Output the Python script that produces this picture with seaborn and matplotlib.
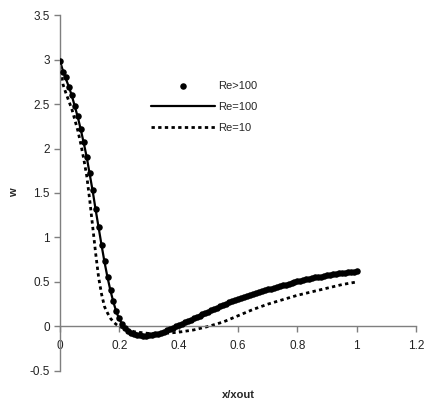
import matplotlib
matplotlib.use("Agg")
import matplotlib.pyplot as plt
import seaborn as sns
import pandas as pd
import numpy as np

# x positions (x/xout) for the sampled curves
x_grid = [0.00, 0.01, 0.02, 0.03, 0.04, 0.05, 0.06, 0.07, 0.08, 0.09,
          0.10, 0.11, 0.12, 0.13, 0.14, 0.15, 0.16, 0.17, 0.18, 0.19,
          0.20, 0.21, 0.22, 0.23, 0.24, 0.25, 0.26, 0.27, 0.28, 0.29,
          0.30, 0.31, 0.32, 0.33, 0.34, 0.35, 0.36, 0.37, 0.38, 0.39,
          0.40, 0.41, 0.42, 0.43, 0.44, 0.45, 0.46, 0.47, 0.48, 0.49,
          0.50, 0.51, 0.52, 0.53, 0.54, 0.55, 0.56, 0.57, 0.58, 0.59,
          0.60, 0.61, 0.62, 0.63, 0.64, 0.65, 0.66, 0.67, 0.68, 0.69,
          0.70, 0.71, 0.72, 0.73, 0.74, 0.75, 0.76, 0.77, 0.78, 0.79,
          0.80, 0.81, 0.82, 0.83, 0.84, 0.85, 0.86, 0.87, 0.88, 0.89,
          0.90, 0.91, 0.92, 0.93, 0.94, 0.95, 0.96, 0.97, 0.98, 0.99, 1.00]

# Re>100 (markers)
w_re_gt100 = [2.98, 2.86, 2.80, 2.69, 2.60, 2.48, 2.36, 2.22, 2.07, 1.91,
              1.72, 1.53, 1.32, 1.12, 0.92, 0.73, 0.56, 0.41, 0.28, 0.17,
              0.09, 0.03, -0.02, -0.05, -0.07, -0.085, -0.095, -0.10, -0.105, -0.105,
              -0.10, -0.095, -0.09, -0.08, -0.07, -0.06, -0.045, -0.03, -0.015, 0.00,
              0.015, 0.03, 0.045, 0.06, 0.075, 0.09, 0.105, 0.12, 0.135, 0.15,
              0.165, 0.18, 0.195, 0.21, 0.225, 0.24, 0.255, 0.27, 0.28, 0.295,
              0.305, 0.32, 0.33, 0.34, 0.355, 0.365, 0.375, 0.385, 0.395, 0.405,
              0.415, 0.425, 0.435, 0.445, 0.455, 0.465, 0.47, 0.48, 0.49, 0.50,
              0.505, 0.515, 0.52, 0.53, 0.535, 0.545, 0.55, 0.555, 0.56, 0.565,
              0.575, 0.58, 0.585, 0.59, 0.595, 0.60, 0.605, 0.61, 0.612, 0.615, 0.62]

# Re=100 (solid line)
w_re100 = [2.98, 2.87, 2.78, 2.69, 2.59, 2.47, 2.35, 2.21, 2.06, 1.90,
           1.71, 1.52, 1.31, 1.11, 0.91, 0.72, 0.55, 0.40, 0.27, 0.16,
           0.08, 0.02, -0.02, -0.05, -0.07, -0.085, -0.095, -0.10, -0.105, -0.105,
           -0.10, -0.095, -0.09, -0.08, -0.07, -0.06, -0.045, -0.03, -0.015, 0.00,
           0.015, 0.03, 0.045, 0.06, 0.075, 0.09, 0.105, 0.12, 0.135, 0.15,
           0.165, 0.18, 0.195, 0.21, 0.225, 0.24, 0.255, 0.27, 0.28, 0.295,
           0.305, 0.32, 0.33, 0.34, 0.355, 0.365, 0.375, 0.385, 0.395, 0.405,
           0.415, 0.425, 0.435, 0.445, 0.455, 0.465, 0.47, 0.48, 0.49, 0.50,
           0.505, 0.515, 0.52, 0.53, 0.535, 0.545, 0.55, 0.555, 0.56, 0.565,
           0.575, 0.58, 0.585, 0.59, 0.595, 0.60, 0.605, 0.61, 0.612, 0.615, 0.62]

# Re=10 (dotted line)
x_re10 = [0.00, 0.01, 0.02, 0.03, 0.04, 0.05, 0.06, 0.07, 0.08, 0.09,
          0.10, 0.11, 0.12, 0.13, 0.14, 0.15, 0.16, 0.17, 0.18, 0.19,
          0.20, 0.22, 0.25, 0.30, 0.35, 0.40, 0.45, 0.50, 0.55, 0.60,
          0.65, 0.70, 0.75, 0.80, 0.85, 0.90, 0.95, 1.00]
w_re10 = [2.95, 2.72, 2.62, 2.53, 2.44, 2.32, 2.20, 2.05, 1.88, 1.69,
          1.42, 1.12, 0.82, 0.55, 0.36, 0.22, 0.15, 0.09, 0.05, 0.02,
          0.00, -0.03, -0.06, -0.08, -0.08, -0.065, -0.04, 0.00, 0.05, 0.12,
          0.19, 0.25, 0.30, 0.35, 0.39, 0.43, 0.47, 0.50]

x_ticks = [0, 0.2, 0.4, 0.6, 0.8, 1.0, 1.2]
x_tick_labels = ["0", "0.2", "0.4", "0.6", "0.8", "1", "1.2"]
y_ticks = [-0.5, 0, 0.5, 1, 1.5, 2, 2.5, 3, 3.5]
y_tick_labels = ["-0.5", "0", "0.5", "1", "1.5", "2", "2.5", "3", "3.5"]

sns.set_style("white")
plt.rcParams['font.family'] = ['Liberation Sans', 'DejaVu Sans']

fig = plt.figure(figsize=(4.29, 4.08), dpi=100)
ax = fig.add_axes([0.14, 0.091, 0.83, 0.872])

df_gt = pd.DataFrame({"x": x_grid, "w": w_re_gt100})
df_100 = pd.DataFrame({"x": x_grid, "w": w_re100})
df_10 = pd.DataFrame({"x": x_re10, "w": w_re10})

sns.lineplot(data=df_100, x="x", y="w", ax=ax, color="black", lw=1.6,
             label="Re=100", sort=False)
sns.lineplot(data=df_10, x="x", y="w", ax=ax, color="black", lw=2.0,
             linestyle=(0, (1.2, 1.2)), label="Re=10", sort=False)
sns.scatterplot(data=df_gt, x="x", y="w", ax=ax, color="black", s=22,
                edgecolor="black", linewidth=0, label="Re>100", zorder=3)

ax.set_xlim(0, 1.2)
ax.set_ylim(-0.5, 3.5)
ax.set_xticks(x_ticks)
ax.set_xticklabels(x_tick_labels)
ax.set_yticks(y_ticks)
ax.set_yticklabels(y_tick_labels)

for s in ["top", "right"]:
    ax.spines[s].set_visible(False)
ax.spines["bottom"].set_position(("data", 0))
ax.spines["left"].set_position(("data", 0))
for s in ["bottom", "left"]:
    ax.spines[s].set_color("#7f7f7f")
    ax.spines[s].set_linewidth(1.0)

ax.tick_params(axis="both", direction="out", length=4, width=1,
               color="#7f7f7f", labelsize=8.5, labelcolor="#222222",
               bottom=True, left=True)
ax.tick_params(axis="x", pad=6)

ax.set_xlabel("x/xout", fontsize=8, fontweight="bold")
ax.set_ylabel("w", fontsize=8, fontweight="bold")
ax.xaxis.set_label_coords(0.5, -0.055)
ax.yaxis.set_label_coords(-0.115, 0.5)

handles, labels = ax.get_legend_handles_labels()
order = [labels.index("Re>100"), labels.index("Re=100"), labels.index("Re=10")]
ax.legend([handles[i] for i in order], [labels[i] for i in order],
          frameon=False, loc="upper left", fontsize=8,
          bbox_to_anchor=(151 / 429, 1 - 81 / 408), bbox_transform=fig.transFigure,
          borderpad=0, borderaxespad=0, handlelength=5.8, handletextpad=0.25,
          labelspacing=1.0)

fig.savefig("out.png", dpi=100)
